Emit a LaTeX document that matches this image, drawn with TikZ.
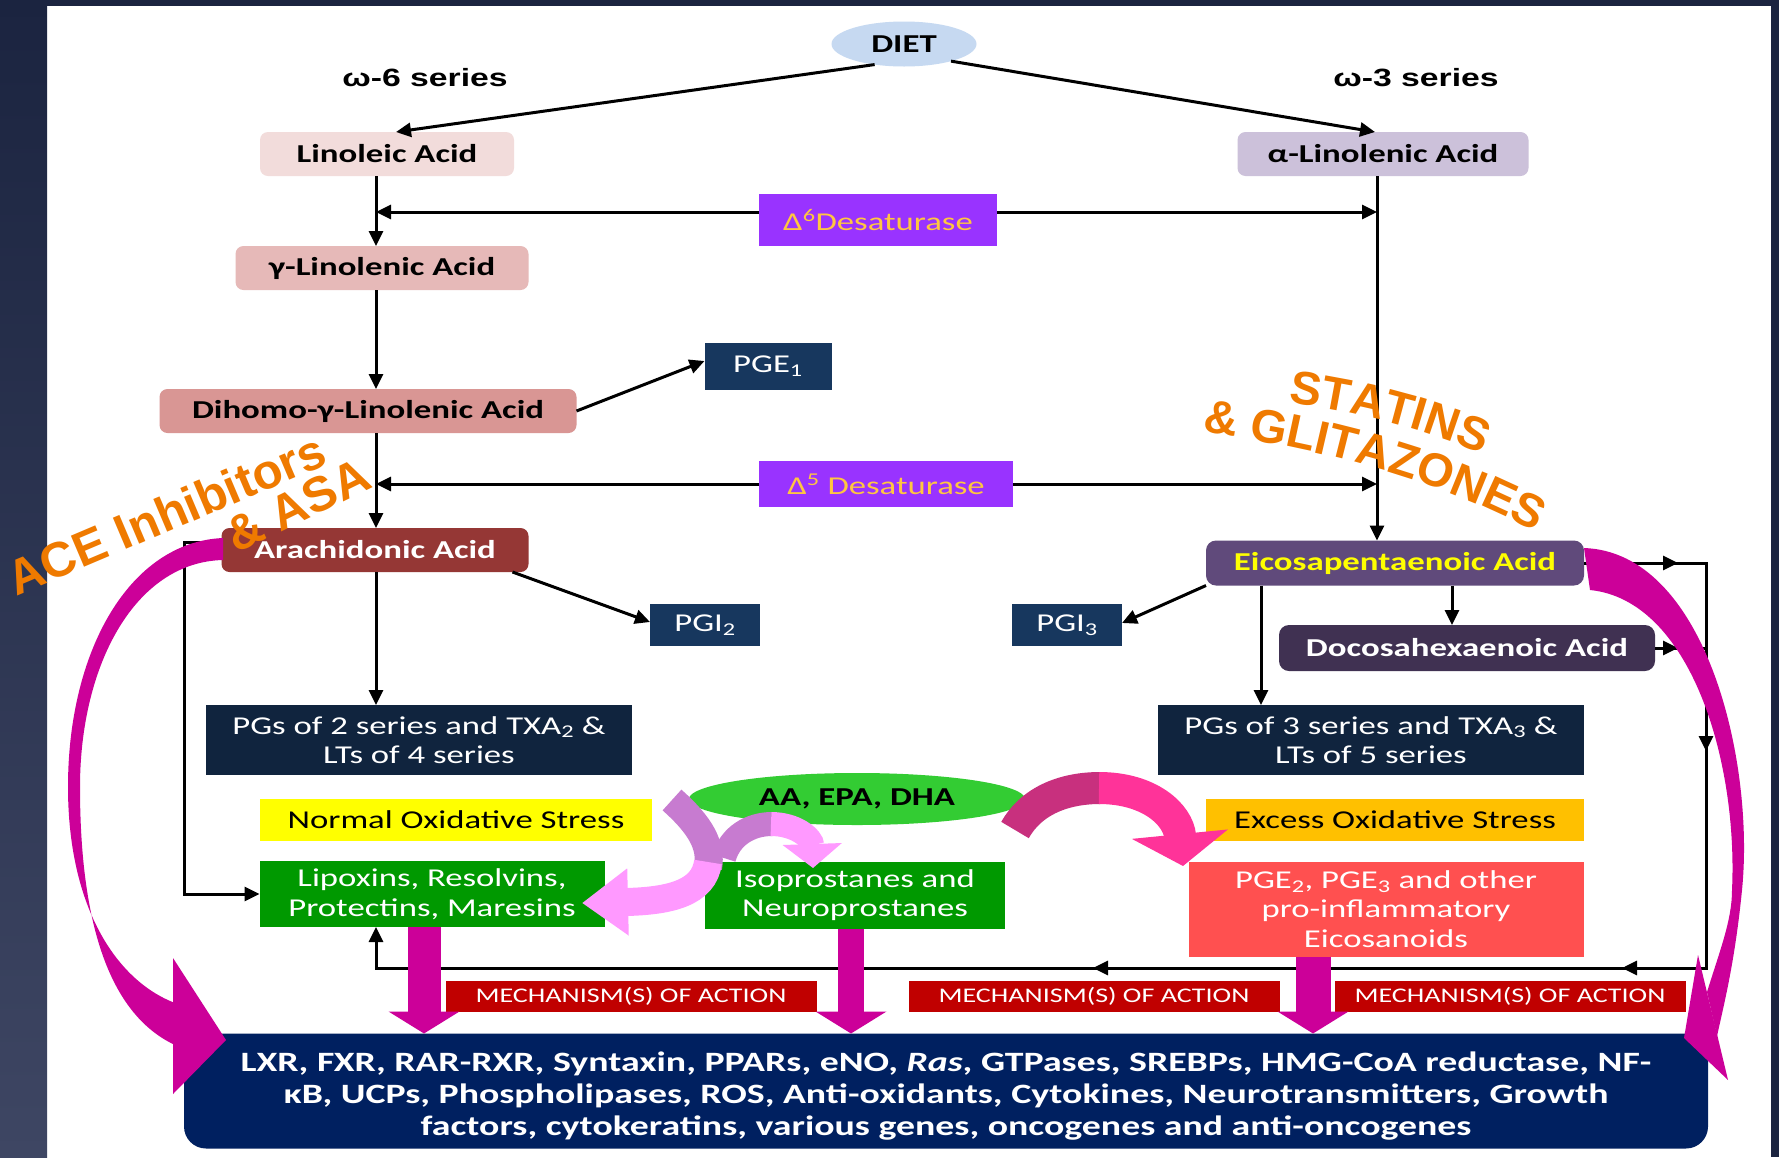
\documentclass[tikz,border=0pt]{standalone}
\usepackage{fontspec}
\setmainfont{Carlito}[FakeStretch=1.35]
\newfontfamily\arialx{Liberation Sans}[FakeStretch=1.35]
\newfontfamily\orfont{Liberation Sans}
\usetikzlibrary{arrows.meta,decorations.text,shapes.geometric,calc}

\definecolor{navyA}{HTML}{1B2440}
\definecolor{navyB}{HTML}{3E4663}
\definecolor{cLin}{HTML}{F2DCDB}
\definecolor{cGam}{HTML}{E6B9B8}
\definecolor{cDgl}{HTML}{D99694}
\definecolor{cAra}{HTML}{953735}
\definecolor{cAla}{HTML}{CCC1DA}
\definecolor{cEpa}{HTML}{604A7B}
\definecolor{cDha}{HTML}{403152}
\definecolor{cPge}{HTML}{17375E}
\definecolor{cPgs}{HTML}{10243E}
\definecolor{cDes}{HTML}{9933FF}
\definecolor{cDesT}{HTML}{FFC640}
\definecolor{cNorm}{HTML}{FFFF00}
\definecolor{cExc}{HTML}{FFC000}
\definecolor{cGrn}{HTML}{009900}
\definecolor{cInf}{HTML}{FF5050}
\definecolor{cMech}{HTML}{C00000}
\definecolor{cBot}{HTML}{002060}
\definecolor{cMag}{HTML}{CC0099}
\definecolor{cDiet}{HTML}{C6D9F1}
\definecolor{cAAE}{HTML}{33CC33}
\definecolor{cOr}{HTML}{EF7A00}
\definecolor{cVio}{HTML}{C77BD0}
\definecolor{cPnk}{HTML}{FF99FF}
\definecolor{cDpA}{HTML}{C8307E}
\definecolor{cDpB}{HTML}{FF3399}
\definecolor{cYel}{HTML}{FFFF00}

\tikzset{
  every node/.style={inner sep=0pt, outer sep=0pt},
  fb/.style={font=\bfseries\fontsize{25.8}{30}\selectfont},
  fr/.style={font=\fontsize{25.7}{29.5}\selectfont},
  acid/.style={fb, rounded corners=8pt, text=black, align=center},
  sq/.style={fr, text=white, align=center},
  mech/.style={fill=cMech, text=white, minimum height=31, font=\fontsize{20.8}{24}\selectfont},
  arr/.style={line width=3pt, -{Triangle[length=15pt,width=14pt]}},
  ln/.style={line width=3pt},
  blk/.style={line width=#1, draw=cMag, -{Triangle[length=22pt,width=70pt]}},
  series/.style={font=\arialx\bfseries\fontsize{25}{30}\selectfont},
  orange/.style={text=cOr, font=\orfont\bfseries\fontsize{49}{52}\selectfont}
}

\begin{document}
\begin{tikzpicture}[x=1pt,y=-1pt]
\useasboundingbox (0,0) rectangle (1779,1157);
\fill[white] (0,0) rectangle (1779,1157);
\shade[top color=navyA, bottom color=navyB] (0,0) rectangle (47,1157);
\fill[navyA] (0,0) rectangle (1779,6);
\fill[navyA] (1771,0) rectangle (1779,1157);

% helper coordinates
\coordinate (vL) at (376,0);
\coordinate (vR) at (1377,0);
\coordinate (vE) at (1261,0);
\coordinate (vD) at (1452,0);
\coordinate (rx) at (1706,0);
\coordinate (lx) at (184,0);
\coordinate (by) at (0,968);

% nodes
\node[ellipse, fill=cDiet, minimum width=145, minimum height=45, fb] (diet) at (904,44) {DIET};
\node[series] (w6) at (425,78) {ω-6 series};
\node[series] (w3) at (1416,78) {ω-3 series};
\node[acid, fill=cLin, minimum width=254, minimum height=44] (lin) at (387,154) {Linoleic Acid};
\node[acid, fill=cAla, minimum width=291, minimum height=44] (ala) at (1383,154) {α-Linolenic Acid};
\node[fr, fill=cDes, text=cDesT, minimum width=238, minimum height=52] (d6) at (878,220) {Δ\textsuperscript{6}Desaturase};
\node[acid, fill=cGam, minimum width=293, minimum height=44] (gam) at (382,268) {γ-Linolenic Acid};
\node[sq, fill=cPge, minimum width=127, minimum height=47] (pge1) at (768,366) {PGE\textsubscript{1}};
\node[acid, fill=cDgl, minimum width=417, minimum height=44] (dgla) at (368,411) {Dihomo-γ-Linolenic Acid};
\node[fr, fill=cDes, text=cDesT, minimum width=254, minimum height=46] (d5) at (886,484) {Δ\textsuperscript{5} Desaturase};
\node[acid, fill=cAra, text=white, minimum width=307, minimum height=44] (ara) at (375,550) {Arachidonic Acid};
\node[acid, fill=cEpa, text=cYel, rounded corners=10pt, minimum width=378, minimum height=45] (epa) at (1395,563) {Eicosapentaenoic Acid};
\node[sq, fill=cPge, minimum width=110, minimum height=42] (pgi2) at (705,625) {PGI\textsubscript{2}};
\node[sq, fill=cPge, minimum width=110, minimum height=42] (pgi3) at (1067,625) {PGI\textsubscript{3}};
\node[acid, fill=cDha, text=white, rounded corners=10pt, minimum width=376, minimum height=46] (dha) at (1467,648) {Docosahexaenoic Acid};
\node[sq, fill=cPgs, minimum width=426, minimum height=70] (pg2) at (419,740) {PGs of 2 series and TXA\textsubscript{2} \&\\LTs of 4 series};
\node[sq, fill=cPgs, minimum width=426, minimum height=70] (pg3) at (1371,740) {PGs of 3 series and TXA\textsubscript{3} \&\\LTs of 5 series};
\node[ellipse, fill=cAAE, minimum width=336, minimum height=52, fb] (aae) at (857,799) {AA, EPA, DHA};
\node[fr, fill=cNorm, minimum width=392, minimum height=42] (nos) at (456,820) {Normal Oxidative Stress};
\node[fr, fill=cExc, minimum width=378, minimum height=42] (eos) at (1395,820) {Excess Oxidative Stress};
\node[sq, fill=cGrn, minimum width=345, minimum height=66] (lip) at (432,894) {Lipoxins, Resolvins,\\Protectins, Maresins};
\node[sq, fill=cGrn, minimum width=300, minimum height=67] (iso) at (855,895) {Isoprostanes and\\Neuroprostanes};
\node[sq, fill=cInf, minimum width=395, minimum height=95] (inf) at (1386,909) {PGE\textsubscript{2}, PGE\textsubscript{3} and other\\pro-inflammatory\\Eicosanoids};
\node[mech, minimum width=371] (m1) at (631,996) {MECHANISM(S) OF ACTION};
\node[mech, minimum width=371] (m2) at (1094,996) {MECHANISM(S) OF ACTION};
\node[mech, minimum width=351] (m3) at (1510,996) {MECHANISM(S) OF ACTION};
\node[fill=cBot, rounded corners=22pt, minimum width=1524, minimum height=115] (bot) at (946,1091) {};
\node[text=white, align=center, font=\bfseries\fontsize{28}{32}\selectfont] (botT) at (946,1096)
  {LXR, FXR, RAR-RXR, Syntaxin, PPARs, eNO, \textit{Ras}, GTPases, SREBPs, HMG-CoA reductase, NF-\\κB, UCPs, Phospholipases, ROS, Anti-oxidants, Cytokines, Neurotransmitters, Growth\\factors, cytokeratins, various genes, oncogenes and anti-oncogenes};

% black connectors
\draw[arr] (diet.215) -- ([xshift=9pt]lin.north);
\draw[arr] (diet.-20) -- ([xshift=-8pt]ala.north);
\draw[arr] (lin.south -| vL) -- (gam.north -| vL);
\draw[arr] ([yshift=8pt]d6.west) -- ([yshift=8pt]d6.west -| vL);
\draw[arr] ([yshift=8pt]d6.east) -- ([yshift=8pt]d6.east -| vR);
\draw[arr] (ala.south -| vR) -- (epa.north -| vR);
\draw[arr] (gam.south -| vL) -- (dgla.north -| vL);
\draw[arr] (dgla.east) -- ([yshift=5pt]pge1.west);
\draw[arr] (dgla.south -| vL) -- (ara.north -| vL);
\draw[arr] (d5.west) -- (d5.west -| vL);
\draw[arr] (d5.east) -- (d5.east -| vR);
\draw[arr] ([xshift=-16pt]ara.south east) -- ([yshift=3pt]pgi2.west);
\draw[arr] (ara.south -| vL) -- (pg2.north -| vL);
\draw[arr] (epa.south west) -- ([yshift=2pt]pgi3.east);
\draw[arr] (epa.south -| vE) -- (pg3.north -| vE);
\draw[arr] (epa.south -| vD) -- (dha.north -| vD);
\draw[arr] ([yshift=8pt]ara.west) -- ([yshift=8pt]ara.west -| lx) -- (lx |- lip.west) -- (lip.west);
\coordinate (br) at (rx |- by);
\draw[arr] (epa.east) -- (epa.east -| rx) -- (br) -- (vL |- by) -- (lip.south -| vL);
\draw[ln] (dha.east) -- (dha.east -| rx);
\draw[arr] ([xshift=-50pt]epa.east -| rx) -- ([xshift=-28pt]epa.east -| rx);
\draw[arr] ([xshift=-50pt]dha.east -| rx) -- ([xshift=-28pt]dha.east -| rx);
\draw[arr] ([yshift=240pt]br) -- ([yshift=217pt]br);
\draw[arr] ([xshift=-60pt]br) -- ([xshift=-84pt]br);
\draw[arr] ([xshift=-590pt]br) -- ([xshift=-613pt]br);

% magenta block arrows
\draw[blk=33pt] ([xshift=-8pt]lip.south) -- ([xshift=-8pt]lip.south |- bot.north);
\draw[blk=26pt] ([xshift=-4pt]iso.south) -- ([xshift=-4pt]iso.south |- bot.north);
\draw[blk=35pt] ([xshift=-73pt]inf.south) -- ([xshift=-73pt]inf.south |- bot.north);

% big magenta curved arrows
\fill[cMag] (223,538) .. controls (130,542) and (68,650) .. (68,787) .. controls (68,905) and (115,980) .. (175,1003)
  -- (175,1045) .. controls (100,1010) and (80,900) .. (80,787) .. controls (80,665) and (135,562) .. (223,560) -- cycle;
\fill[cMag] (173,958) -- (226,1040) -- (173,1094) -- cycle;
\fill[cMag] (1584,548) .. controls (1705,552) and (1755,760) .. (1742,890) .. controls (1735,960) and (1725,1000) .. (1717,1036)
  -- (1707,992) .. controls (1720,950) and (1732,920) .. (1732,890) .. controls (1738,760) and (1690,600) .. (1590,590) -- cycle;
\fill[cMag] (1698,955) -- (1684,1038) -- (1728,1080) -- cycle;

% central curved arrows
\draw[line width=28pt, cVio] (672,800) .. controls (700,825) and (712,845) .. (708,868);
\draw[line width=28pt, cPnk, -{Triangle[length=46pt,width=64pt]}] (708,862) .. controls (704,893) and (670,901) .. (582,903);
\draw[line width=24pt, cVio] (724,858) .. controls (730,836) and (750,824) .. (772,824);
\draw[line width=24pt, cPnk, -{Triangle[length=24pt,width=58pt]}] (771,824) .. controls (796,824) and (812,838) .. (813,868);
\draw[line width=32pt, cDpA] (1015,830) .. controls (1032,800) and (1065,788) .. (1100,788);
\draw[line width=32pt, cDpB, -{Triangle[length=32pt,width=95pt]}] (1099,788) .. controls (1150,788) and (1178,815) .. (1183,866);

% orange labels
\node[orange, rotate=23] (ace) at (166,514) {ACE Inhibitors};
\node[orange, rotate=26] (asa) at (298,505) {\& ASA};
\path[decorate, decoration={text along path, text color=cOr, text align=center,
  text={|\orfont\bfseries\fontsize{47}{50}\selectfont|STATINS}}]
  (1262,400) .. controls (1342,408) and (1432,428) .. (1507,466);
\path[decorate, decoration={text along path, text color=cOr, text align=center,
  text={|\orfont\bfseries\fontsize{47}{50}\selectfont|{\&} GLITAZONES}}]
  (1172,428) .. controls (1282,441) and (1442,473) .. (1562,548);
\end{tikzpicture}
\end{document}
